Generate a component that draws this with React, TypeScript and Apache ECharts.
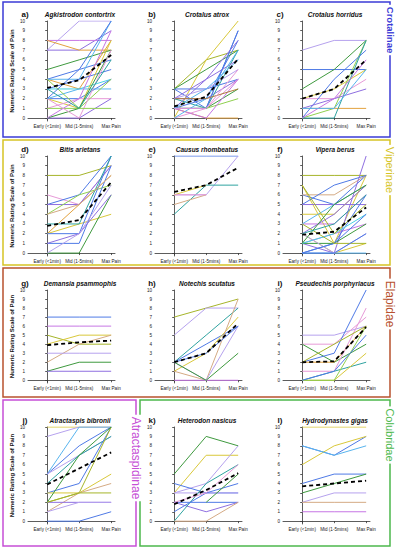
import React, { useEffect, useRef } from "react";
import * as echarts from "echarts";

const stages = ["Early (<1min)", "Mid (1-5mins)", "Max Pain"];
const yTicks = [0, 1, 2, 3, 4, 5, 6, 7, 8, 9, 10];

const palette: Record<string, string> = {
  B: "#4f7ae6", LB: "#58b4ee", P: "#8f6fe0", L: "#b6a2ee", K: "#e79ad8", V: "#c676e4",
  G: "#3f9a3f", LG: "#90d050", O: "#a6b52a", Y: "#d9c83a", OR: "#e3a23e", T: "#d4aa84",
  TE: "#2fa3a0", C: "#48d2e2", BR: "#b07c3c",
};

// a) Agkistrodon contortrix
const linesA = [[7,10,10],[7,7,9],[8,8,8],[8,7,7],[5,6,7],[4,5,6],[4,3,8],[4,4,10],[3,3,4],[3,4,5],[2,2,4],[2,1,8],[2,3,3],[1,2,2],[1,1,4],[0,0,2],[0,1,7],[0,2,9],[2,0,7],[4,1,1],[2,5,10],[3,1,6]];
const colorsA = ["L","P","V","OR","G","B","OR","LB","C","B","B","Y","LB","K","LG","P","G","V","K","LG","B","TE"];
const meanA = [3.1, 3.9, 6.5];
// b) Crotalus atrox
const linesB = [[3,6,7],[3,3,4],[2,2,4],[0,6,10],[3,1,9],[2,1,7],[1,1,3],[1,2,8],[1,0,0],[1,4,6],[0,1,4],[1,1,2],[3,5,7],[2,3,5],[1,0,4],[0,2,7],[1,1,9],[1,3,6],[2,2,3],[1,1,5],[2,4,8]];
const colorsB = ["O","B","P","Y","B","TE","G","B","OR","P","K","LG","G","L","V","LB","B","LB","BR","K","P"];
const meanB = [1.2, 2.2, 6.1];
// c) Crotalus horridus
const linesC = [[7,8,8],[5,5,5],[3,5,8],[2,3,5],[2,2,4],[1,1,1],[0,1,8],[0,0,8],[0,4,7],[1,2,3],[0,2,6],[1,1,5]];
const colorsC = ["L","B","G","Y","K","OR","LG","TE","B","P","V","LB"];
const meanC = [2.0, 3.0, 6.0];
// d) Bitis arietans
const linesD = [[8,8,9],[6,5,9],[5,6,10],[5,5,9],[4,6,7],[2,5,8],[2,3,4],[2,2,10],[1,1,9],[0,0,6],[1,2,6],[0,2,7],[3,3,10],[4,5,8]];
const colorsD = ["O","K","B","P","LG","OR","Y","B","B","G","P","L","TE","T"];
const meanD = [2.8, 3.4, 7.3];
// e) Causus rhombeatus
const linesE = [[10,10,10],[6,6,10],[4,7,7],[5,6,null],[6,7,null],[6,6,null]];
const colorsE = ["B","L","TE","T","Y","K"];
const meanE = [6.3, 7.0, 8.8];
// f) Vipera berus
const linesF = [[8,8,8],[7,1,8],[6,5,8],[6,6,8],[5,7,8],[5,5,5],[4,4,7],[3,3,6],[3,5,7],[2,4,7],[2,0,1],[1,2,3],[1,0,10],[0,1,6],[0,0,0],[1,1,3],[1,2,4],[2,0,2],[0,1,4],[3,1,1],[7,2,5],[1,5,7],[0,0,2],[2,3,6]];
const colorsF = ["O","Y","B","T","B","P","Y","V","LB","P","Y","V","P","B","LB","G","C","L","B","O","O","G","B","TE"];
const meanF = [1.9, 2.2, 4.7];
// g) Demansia psammophis
const linesG = [[7,7,7],[6,6,6],[5,4,4],[4,5,5],[2,4,5],[3,3,3],[1,2,2],[1,1,1]];
const colorsG = ["B","V","O","Y","T","L","G","P"];
const meanG = [3.9, 4.2, 4.4];
// h) Notechis scutatus
const linesH = [[7,8,9],[5,8,8],[2,5,8],[2,4,6],[1,3,7],[1,0,9],[0,0,0],[2,0,6],[2,0,3],[2,3,6]];
const colorsH = ["O","L","TE","B","Y","T","V","L","G","B"];
const meanH = [2.0, 3.0, 6.3];
// i) Pseudechis porphyriacus
const linesI = [[5,5,6],[4,4,7],[4,2,4],[2,3,10],[2,2,6],[1,1,8],[0,1,2],[0,0,3],[0,0,6],[0,1,5],[2,4,6]];
const colorsI = ["L","K","G","B","OR","K","TE","Y","LG","B","O"];
const meanI = [2.0, 2.1, 5.9];
// j) Atractaspis bibronii
const linesJ = [[10,10,10],[9,10,10],[5,10,10],[5,8,10],[5,7,9],[4,7,9],[3,4,10],[3,3,5],[2,3,10],[2,7,10],[1,3,4],[2,2,2],[1,2,2],[0,0,1],[2,3,3]];
const colorsJ = ["Y","L","LB","B","L","TE","B","Y","O","G","T","P","L","B","O"];
const meanJ = [3.9, 5.6, 7.3];
// k) Heterodon nasicus
const linesK = [[5,9,8],[3,7,7],[3,4,8],[4,3,3],[3,3,3],[2,2,2],[2,1,2],[0,4,6],[1,3,4],[0,0,2],[null,2,5],[2,3,6]];
const colorsK = ["G","Y","L","B","L","B","P","TE","B","T","G","K"];
const meanK = [1.8, 3.3, 5.1];
// l) Hydrodynastes gigas
const linesL = [[10,10,10],[8,7,9],[6,8,9],[8,7,8],[4,5,5],[3,4,5],[2,3,3],[2,2,2],[1,1,1]];
const colorsL = ["Y","B","Y","LB","B","G","L","T","V"];
const meanL = [3.7, 4.0, 4.3];

const panels = [
  { letter: "a)", name: "Agkistrodon contortrix", lines: linesA, colors: colorsA, mean: meanA },
  { letter: "b)", name: "Crotalus atrox", lines: linesB, colors: colorsB, mean: meanB },
  { letter: "c)", name: "Crotalus horridus", lines: linesC, colors: colorsC, mean: meanC },
  { letter: "d)", name: "Bitis arietans", lines: linesD, colors: colorsD, mean: meanD },
  { letter: "e)", name: "Causus rhombeatus", lines: linesE, colors: colorsE, mean: meanE },
  { letter: "f)", name: "Vipera berus", lines: linesF, colors: colorsF, mean: meanF },
  { letter: "g)", name: "Demansia psammophis", lines: linesG, colors: colorsG, mean: meanG },
  { letter: "h)", name: "Notechis scutatus", lines: linesH, colors: colorsH, mean: meanH },
  { letter: "i)", name: "Pseudechis porphyriacus", lines: linesI, colors: colorsI, mean: meanI },
  { letter: "j)", name: "Atractaspis bibronii", lines: linesJ, colors: colorsJ, mean: meanJ },
  { letter: "k)", name: "Heterodon nasicus", lines: linesK, colors: colorsK, mean: meanK },
  { letter: "l)", name: "Hydrodynastes gigas", lines: linesL, colors: colorsL, mean: meanL },
];

const groups = [
  { label: "Crotalinae", color: "#3b3bd6", x: 3, y: 2, w: 387, h: 135, labelY: 30, bold: true, size: 9.5 },
  { label: "Viperinae", color: "#d6c424", x: 3, y: 140, w: 387, h: 125, labelY: 170, bold: false, size: 11 },
  { label: "Elapidae", color: "#b8512e", x: 3, y: 268, w: 387, h: 129, labelY: 304, bold: false, size: 12 },
  { label: "Atractaspidinae", color: "#c64fd6", x: 3, y: 400, w: 133, h: 146, labelY: 458, bold: false, size: 12 },
  { label: "Colubridae", color: "#4cb84c", x: 140, y: 400, w: 250, h: 146, labelY: 435, bold: false, size: 11 },
];

const COLS = [28, 155, 283];
const ROWS = [21, 156, 290, 427];
const HEIGHTS = [100, 100, 93, 97];
const GW = 87;

export default function App() {
  const ref = useRef<HTMLDivElement>(null);
  useEffect(() => {
    if (!ref.current) return;
    const chart = echarts.init(ref.current, null, { renderer: "svg" });
    const grid: any[] = [];
    const xAxis: any[] = [];
    const yAxis: any[] = [];
    const series: any[] = [];
    const graphic: any[] = [];
    const font = "Liberation Sans, Arial, sans-serif";

    groups.forEach((g) => {
      graphic.push({
        type: "rect", z: 1,
        shape: { x: g.x, y: g.y, width: g.w, height: g.h },
        style: { fill: "none", stroke: g.color, lineWidth: 1.5 },
      });
      graphic.push({
        type: "text", z: 2,
        x: g.x + g.w, y: g.labelY, rotation: -Math.PI / 2,
        style: {
          text: g.label, fill: g.color, font: `${g.bold ? "bold " : ""}${g.size}px ${font}`,
          align: "center", verticalAlign: "middle", backgroundColor: "#fff", padding: [0, 2],
        },
      });
    });

    panels.forEach((p, i) => {
      const col = i % 3;
      const row = Math.floor(i / 3);
      const left = COLS[col];
      const top = ROWS[row];
      grid.push({ left, top, width: GW, height: HEIGHTS[row] });
      xAxis.push({
        gridIndex: i, type: "value", min: -0.6, max: 2.12,
        axisLine: { show: true, lineStyle: { color: "#333", width: 0.8 } },
        axisTick: { show: true, customValues: [0, 1, 2], length: 2, lineStyle: { color: "#333", width: 0.8 } },
        axisLabel: {
          customValues: [0, 1, 2], formatter: (v: number) => stages[Math.round(v)] ?? "",
          fontSize: 4.6, color: "#222", margin: 3, fontFamily: font,
        },
        splitLine: { show: false },
      });
      yAxis.push({
        gridIndex: i, type: "value", min: -0.3, max: 10,
        name: col === 0 ? "Numeric Rating Scale of Pain" : "",
        nameLocation: "middle", nameGap: 13,
        nameTextStyle: { fontSize: 6, fontWeight: "bold", color: "#111", fontFamily: font },
        axisLine: { show: true, lineStyle: { color: "#333", width: 0.8 } },
        axisTick: { show: true, customValues: yTicks, length: 2, lineStyle: { color: "#333", width: 0.8 } },
        axisLabel: { customValues: yTicks, fontSize: 4.6, color: "#222", margin: 3, fontFamily: font },
        splitLine: { show: false },
      });
      p.lines.forEach((ln, j) => {
        const data: any[] = [];
        ln.forEach((v, k) => { if (v !== null) data.push([k, v]); });
        series.push({
          type: "line", xAxisIndex: i, yAxisIndex: i, data, symbol: "none", silent: true,
          lineStyle: { color: palette[p.colors[j]] || "#888", width: 1 }, z: 2,
        });
      });
      series.push({
        type: "line", xAxisIndex: i, yAxisIndex: i, data: p.mean.map((v, k) => [k, v]),
        symbol: "none", silent: true, z: 5,
        lineStyle: { color: "#000", width: 1.8, type: [4, 3] },
      });
      graphic.push({
        type: "text", z: 3, x: left - 3, y: top - 7,
        style: { text: p.letter, font: `bold 8px ${font}`, fill: "#111", align: "center", verticalAlign: "middle" },
      });
      graphic.push({
        type: "text", z: 3, x: left + 52, y: top - 7,
        style: { text: p.name, font: `italic bold 6.5px ${font}`, fill: "#111", align: "center", verticalAlign: "middle" },
      });
    });

    chart.setOption({
      animation: false,
      backgroundColor: "#fff",
      grid, xAxis, yAxis, series, graphic,
    });
    return () => chart.dispose();
  }, []);
  return <div ref={ref} style={{ position: "absolute", left: 0, top: 0, width: 399, height: 550 }} />;
}
